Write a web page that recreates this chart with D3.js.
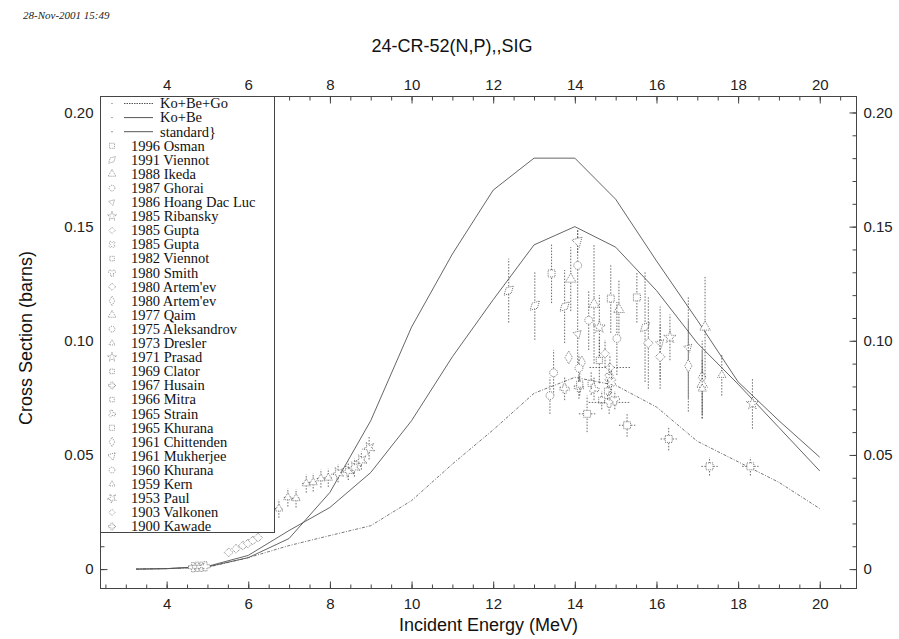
<!DOCTYPE html>
<html>
<head>
<meta charset="utf-8">
<script src="https://cdn.jsdelivr.net/npm/d3@7/dist/d3.min.js"></script>
<style>
  body { margin: 0; background: #fff; }
  svg { display: block; }
</style>
</head>
<body>
<div id="chart"></div>
<script>
// evaluated curves, energies in MeV, cross sections in barns
const curveEnergies = [3.25, 4, 5, 6, 7, 8, 9, 10, 11, 12, 13, 14, 15, 16, 17, 18, 19, 20];
const koBeGo   = [0, 0.0002, 0.0008, 0.005, 0.0103, 0.0147, 0.019, 0.030, 0.046, 0.061, 0.077, 0.084, 0.0805, 0.071, 0.056, 0.047, 0.038, 0.0265];
const koBe     = [0, 0.0002, 0.0012, 0.006, 0.0169, 0.027, 0.0423, 0.065, 0.093, 0.118, 0.142, 0.150, 0.141, 0.122, 0.099, 0.081, 0.062, 0.043];
const standard = [0, 0.0002, 0.001, 0.005, 0.0134, 0.0336, 0.065, 0.106, 0.138, 0.166, 0.180, 0.180, 0.162, 0.135, 0.109, 0.082, 0.065, 0.049];

// experimental points: [energy, sigma, dSigma, dEnergy]
const osman1996      = [[13.43, 0.1295, 0.013, 0], [14.88, 0.1185, 0.015, 0], [15.52, 0.119, 0.011, 0]];
const viennot1991    = [[12.38, 0.122, 0.014, 0], [13.02, 0.1154, 0.015, 0], [13.75, 0.115, 0.016, 0], [15.72, 0.106, 0.024, 0]];
const ikeda1988      = [[13.9, 0.127, 0.014, 0], [14.47, 0.116, 0.026, 0], [15.08, 0.1137, 0.013, 0]];
const ghorai1987     = [[14.07, 0.133, 0.0155, 0], [14.34, 0.109, 0.013, 0], [15.03, 0.101, 0.016, 0]];
const hoang1986      = [[14.07, 0.103, 0.014, 0], [16.09, 0.099, 0.016, 0], [16.78, 0.097, 0.022, 0]];
const ribansky1985   = [[14.6, 0.106, 0.014, 0], [16.33, 0.1015, 0.01, 0]];
const gupta1985a     = [[14.74, 0.0944, 0.006, 0], [14.86, 0.0883, 0.005, 0.5]];
const gupta1985b     = [[14.84, 0.084, 0.006, 0], [14.9, 0.082, 0.005, 0]];
const viennot1982    = [[14.8, 0.078, 0.005, 0], [14.66, 0.074, 0.004, 0]];
const smith1980      = [[14.84, 0.073, 0.005, 0.5], [14.98, 0.074, 0.004, 0]];
const artemev1980a   = [[15.8, 0.099, 0.02, 0], [16.09, 0.093, 0.014, 0]];
const artemev1980b   = [[16.78, 0.089, 0.02, 0], [17.12, 0.084, 0.016, 0]];
const qaim1977       = [[17.19, 0.106, 0.022, 0], [17.12, 0.081, 0.015, 0]];
const aleksandrov1975 = [[13.48, 0.086, 0.01, 0], [13.39, 0.076, 0.008, 0]];
const dresler1973    = [[17.12, 0.079, 0.013, 0], [17.6, 0.085, 0.009, 0]];
const prasad1971     = [[18.35, 0.0725, 0.011, 0]];
const clator1969     = [[14.6, 0.0914, 0.01, 0]];
const husain1967     = [[13.75, 0.079, 0.005, 0], [14.1, 0.0796, 0.005, 0]];
const mitra1966      = [[14.4, 0.0813, 0.005, 0], [14.12, 0.081, 0.005, 0]];
const strain1965     = [[14.47, 0.079, 0.005, 0]];
const khurana1965    = [[14.3, 0.068, 0.008, 0.2], [15.28, 0.063, 0.005, 0.2], [16.3, 0.057, 0.005, 0.2], [17.3, 0.045, 0.004, 0.2], [18.3, 0.045, 0.004, 0.2]];
const chittenden1961 = [[13.85, 0.0927, 0, 0], [14.17, 0.0905, 0, 0]];
const mukherjee1961  = [[14.07, 0.1435, 0.005, 0]];
const khurana1960    = [[14.1, 0.088, 0.006, 0]];
const kern1959       = [[6.75, 0.0265, 0.004, 0.1], [6.97, 0.0314, 0.004, 0.1], [7.17, 0.031, 0.004, 0.1], [7.42, 0.0375, 0.004, 0.1], [7.59, 0.038, 0.004, 0.1], [7.78, 0.0397, 0.004, 0.1], [7.96, 0.040, 0.004, 0.1]];
const paul1953       = [[8.2, 0.042, 0.004, 0.1], [8.45, 0.043, 0.004, 0.1], [8.6, 0.0445, 0.004, 0.1], [8.77, 0.0476, 0.004, 0.1], [8.96, 0.053, 0.005, 0.1]];
const valkonen1903   = [[5.52, 0.0073, 0.001, 0], [5.7, 0.0089, 0.001, 0], [5.87, 0.0103, 0.001, 0], [5.99, 0.0112, 0.001, 0], [6.11, 0.0125, 0.001, 0], [6.24, 0.0138, 0.001, 0]];
const kawade1900     = [[4.65, 0.0008, 0, 0], [4.75, 0.001, 0, 0], [4.85, 0.001, 0, 0], [4.95, 0.0012, 0, 0]];

const curveLabels = ['Ko+Be+Go', 'Ko+Be', 'standard}'];
const expLabels = ['1996 Osman', '1991 Viennot', '1988 Ikeda', '1987 Ghorai', '1986 Hoang Dac Luc', '1985 Ribansky',
  '1985 Gupta', '1985 Gupta', '1982 Viennot', '1980 Smith', "1980 Artem'ev", "1980 Artem'ev", '1977 Qaim',
  '1975 Aleksandrov', '1973 Dresler', '1971 Prasad', '1969 Clator', '1967 Husain', '1966 Mitra', '1965 Strain',
  '1965 Khurana', '1961 Chittenden', '1961 Mukherjee', '1960 Khurana', '1959 Kern', '1953 Paul', '1903 Valkonen', '1900 Kawade'];
const expData = [osman1996, viennot1991, ikeda1988, ghorai1987, hoang1986, ribansky1985, gupta1985a, gupta1985b,
  viennot1982, smith1980, artemev1980a, artemev1980b, qaim1977, aleksandrov1975, dresler1973, prasad1971, clator1969,
  husain1967, mitra1966, strain1965, khurana1965, chittenden1961, mukherjee1961, khurana1960, kern1959, paul1953,
  valkonen1903, kawade1900];

const xTicks = [4, 6, 8, 10, 12, 14, 16, 18, 20];
const yTicks = [0, 0.05, 0.10, 0.15, 0.20];

const W = 899, H = 639;
const frame = { left: 100.5, right: 856.5, top: 96.5, bottom: 588.5 };

const svg = d3.select('#chart').append('svg')
  .attr('width', W).attr('height', H)
  .style('font-family', '"Liberation Sans", Arial, sans-serif');

const x = d3.scaleLinear().domain([2.38, 20.9]).range([frame.left, frame.right]);
const y = d3.scaleLinear().domain([-0.0085, 0.207]).range([frame.bottom, frame.top]);

// date stamp and title
svg.append('text').attr('x', 23).attr('y', 19)
  .style('font-family', '"Liberation Serif", serif').style('font-style', 'italic')
  .style('font-size', '11px').attr('fill', '#222').text('28-Nov-2001 15:49');

svg.append('text').attr('x', 452).attr('y', 52).attr('text-anchor', 'middle')
  .style('font-size', '18px').attr('fill', '#111').text('24-CR-52(N,P),,SIG');

// axes (ticks point inward)
const minorX = d3.range(2.5, 20.9, 0.5);
const minorY = d3.range(0, 0.2001, 0.01);
const fmtY = d => d === 0 ? '0' : d3.format('.2f')(d);

function styleAxis(g) {
  g.select('.domain').remove();
  g.selectAll('line').attr('stroke', '#444');
  g.selectAll('text').style('font-size', '15px').attr('fill', '#222');
}

svg.append('g').attr('transform', `translate(0,${frame.bottom})`)
  .call(d3.axisBottom(x).tickValues(minorX).tickSize(-4).tickFormat(''))
  .call(styleAxis);
svg.append('g').attr('transform', `translate(0,${frame.bottom})`)
  .call(d3.axisBottom(x).tickValues(xTicks).tickSizeInner(-7).tickPadding(10).tickFormat(d3.format('d')))
  .call(styleAxis);
svg.append('g').attr('transform', `translate(0,${frame.top})`)
  .call(d3.axisTop(x).tickValues(minorX).tickSize(-4).tickFormat(''))
  .call(styleAxis);
svg.append('g').attr('transform', `translate(0,${frame.top})`)
  .call(d3.axisTop(x).tickValues(xTicks).tickSizeInner(-7).tickPadding(7).tickFormat(d3.format('d')))
  .call(styleAxis);

svg.append('g').attr('transform', `translate(${frame.left},0)`)
  .call(d3.axisLeft(y).tickValues(minorY).tickSize(-4).tickFormat(''))
  .call(styleAxis);
svg.append('g').attr('transform', `translate(${frame.left},0)`)
  .call(d3.axisLeft(y).tickValues(yTicks).tickSizeInner(-7).tickPadding(7).tickFormat(fmtY))
  .call(styleAxis);
svg.append('g').attr('transform', `translate(${frame.right},0)`)
  .call(d3.axisRight(y).tickValues(minorY).tickSize(-4).tickFormat(''))
  .call(styleAxis);
svg.append('g').attr('transform', `translate(${frame.right},0)`)
  .call(d3.axisRight(y).tickValues(yTicks).tickSizeInner(-7).tickPadding(7).tickFormat(fmtY))
  .call(styleAxis);

svg.append('rect')
  .attr('x', frame.left).attr('y', frame.top)
  .attr('width', frame.right - frame.left).attr('height', frame.bottom - frame.top)
  .attr('fill', 'none').attr('stroke', '#444').attr('stroke-width', 1);

// axis titles
svg.append('text').attr('x', (frame.left + frame.right) / 2 + 10).attr('y', 631)
  .attr('text-anchor', 'middle').style('font-size', '18px').attr('fill', '#111')
  .text('Incident Energy (MeV)');
svg.append('text').attr('transform', 'translate(32,338) rotate(-90)')
  .attr('text-anchor', 'middle').style('font-size', '18px').attr('fill', '#111')
  .text('Cross Section (barns)');

// evaluated curves
const line = d3.line().x(d => x(d[0])).y(d => y(d[1]));
const curves = [
  { vals: koBeGo, dash: '3,1.5,1,1.5', color: '#666' },
  { vals: koBe, dash: null, color: '#555' },
  { vals: standard, dash: null, color: '#555' }
];
curves.forEach(c => {
  svg.append('path')
    .datum(curveEnergies.map((e, i) => [e, c.vals[i]]))
    .attr('d', line)
    .attr('fill', 'none')
    .attr('stroke', c.color)
    .attr('stroke-width', 0.9)
    .attr('stroke-dasharray', c.dash);
});

// experimental data
const symbolTypes = [d3.symbolSquare, d3.symbolDiamond, d3.symbolTriangle, d3.symbolCircle, d3.symbolTriangle2,
  d3.symbolStar, d3.symbolDiamond2, d3.symbolCross, d3.symbolSquare2, d3.symbolWye];
const symFor = i => symbolTypes[i % symbolTypes.length];

const pts = svg.append('g');
expData.forEach((series, si) => {
  const g = pts.append('g');
  series.forEach(p => {
    const [e, s, ds, de] = p;
    if (ds > 0) {
      g.append('line')
        .attr('x1', x(e)).attr('x2', x(e))
        .attr('y1', y(s - ds)).attr('y2', y(s + ds))
        .attr('stroke', '#444').attr('stroke-width', 0.8)
        .attr('stroke-dasharray', '1.5,1.5');
    }
    if (de > 0) {
      g.append('line')
        .attr('x1', x(e - de)).attr('x2', x(e + de))
        .attr('y1', y(s)).attr('y2', y(s))
        .attr('stroke', '#444').attr('stroke-width', 0.8)
        .attr('stroke-dasharray', '1.5,1.5');
    }
    g.append('path')
      .attr('d', d3.symbol().type(symFor(si)).size(48)())
      .attr('transform', `translate(${x(e)},${y(s)}) rotate(${si % 3 === 1 ? 45 : 0})`)
      .attr('fill', '#fff')
      .attr('stroke', '#555')
      .attr('stroke-width', 0.8)
      .attr('stroke-dasharray', '1,1');
  });
});

// legend
const legend = svg.append('g');
legend.append('rect')
  .attr('x', frame.left).attr('y', frame.top)
  .attr('width', 174).attr('height', 436)
  .attr('fill', '#fff').attr('stroke', '#444').attr('stroke-width', 1);

const rowY = i => 103.5 + i * 14.1;
const legendFont = '"Liberation Serif", "Times New Roman", serif';

curveLabels.forEach((lab, i) => {
  const cy = rowY(i);
  legend.append('circle').attr('cx', 112).attr('cy', cy).attr('r', 0.6).attr('fill', '#555');
  legend.append('line').attr('x1', 124).attr('x2', 153).attr('y1', cy).attr('y2', cy)
    .attr('stroke', '#444').attr('stroke-width', 0.9)
    .attr('stroke-dasharray', i === 0 ? '1.5,1' : null);
  legend.append('text').attr('x', 160).attr('y', cy + 4.8)
    .style('font-family', legendFont).style('font-size', '14.5px').attr('fill', '#111').text(lab);
});

expLabels.forEach((lab, i) => {
  const cy = rowY(i + 3);
  legend.append('path')
    .attr('d', d3.symbol().type(symFor(i)).size(26)())
    .attr('transform', `translate(112,${cy}) rotate(${i % 3 === 1 ? 45 : 0})`)
    .attr('fill', 'none').attr('stroke', '#666').attr('stroke-width', 0.7)
    .attr('stroke-dasharray', '1,1');
  legend.append('text').attr('x', 131).attr('y', cy + 4.8)
    .style('font-family', legendFont).style('font-size', '14.5px').attr('fill', '#111').text(lab);
});
</script>
</body>
</html>
